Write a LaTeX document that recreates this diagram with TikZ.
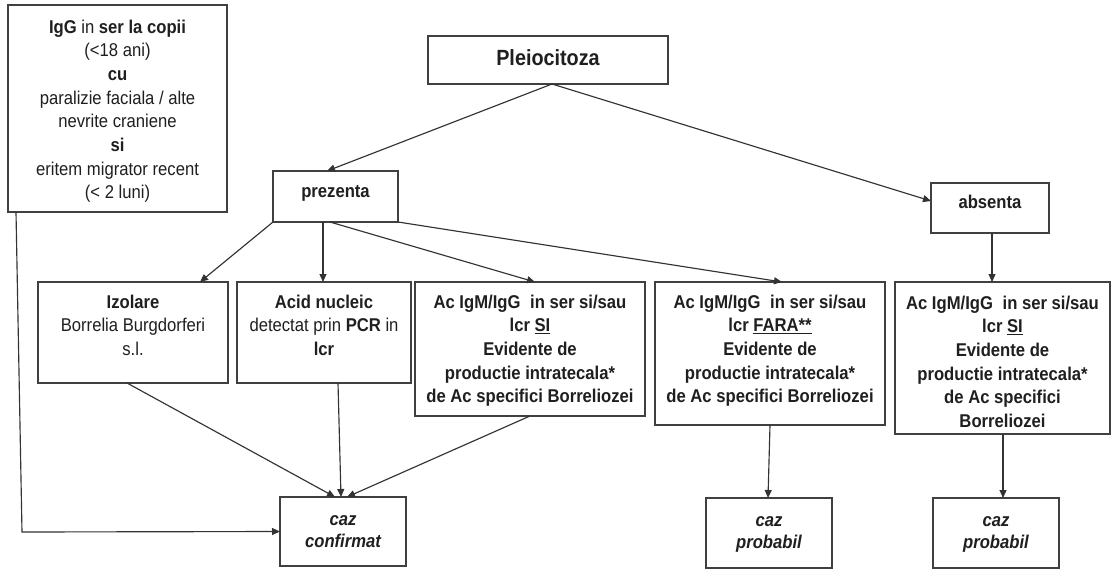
\documentclass[tikz,border=0pt]{standalone}
\usepackage{fontspec}
\setmainfont{Liberation Sans}[FakeStretch=0.9]
\usetikzlibrary{arrows.meta}
\newcommand\bxt[4]{\parbox[c][#2][t]{#1}{\centering\rule{0pt}{#3}#4}}
\newcommand\acline{Ac IgM/IgG\hspace{5pt} in ser si/sau}
\tikzset{
  bx/.style={draw=black!75, line width=1.2pt, inner sep=0pt, outer sep=0pt, anchor=north west, fill=white, text=black!88,
    font=\fontsize{18.5pt}{23.7pt}\selectfont},
  conn/.style={draw=black!80, line width=1.15pt, -{Triangle[length=8pt,width=7pt]}},
  plain/.style={draw=black!80, line width=1.1pt}
}
\begin{document}
\begin{tikzpicture}[x=1pt,y=-1pt]
\useasboundingbox (0,0) rectangle (1113,570);
\fill[white] (0,0) rectangle (1113,570);

\node[bx] (lb) at (8,5) {\bxt{219pt}{207pt}{28pt}{\textbf{IgG} in \textbf{ser la copii}\\(<18 ani)\\\textbf{cu}\\paralizie faciala / alte\\nevrite craniene\\\textbf{si}\\eritem migrator recent\\(< 2 luni)}};

\node[bx, font=\fontsize{22pt}{26pt}\selectfont\bfseries] (pl) at (428,36) {\bxt{240pt}{48pt}{29pt}{Pleiocitoza}};

\node[bx, font=\fontsize{18.5pt}{23.7pt}\selectfont\bfseries] (pr) at (273,171) {\bxt{125pt}{51pt}{26pt}{prezenta}};

\node[bx, font=\fontsize{18.5pt}{23.7pt}\selectfont\bfseries] (ab) at (931,183) {\bxt{118pt}{50pt}{25pt}{absenta}};

\node[bx] (iz) at (38,282) {\bxt{190pt}{101pt}{26pt}{\textbf{Izolare}\\Borrelia Burgdorferi\\s.l.}};

\node[bx] (ac) at (237,282) {\bxt{174pt}{101pt}{26pt}{\textbf{Acid nucleic}\\detectat prin \textbf{PCR} in\\\textbf{lcr}}};

\node[bx, font=\fontsize{18.5pt}{23.7pt}\selectfont\bfseries] (si) at (415,282) {\bxt{230pt}{134pt}{26pt}{\acline\\lcr \underline{SI}\\Evidente de\\productie intratecala*\\de Ac specifici Borreliozei}};

\node[bx, font=\fontsize{18.5pt}{23.7pt}\selectfont\bfseries] (fa) at (655,282) {\bxt{230pt}{143pt}{26pt}{\acline\\lcr \underline{FARA**}\\Evidente de\\productie intratecala*\\de Ac specifici Borreliozei}};

\node[bx, font=\fontsize{18.5pt}{23.7pt}\selectfont\bfseries] (rb) at (895,282) {\bxt{215pt}{152pt}{27pt}{\acline\\lcr \underline{SI}\\Evidente de\\productie intratecala*\\de Ac specifici\\Borreliozei}};

\node[bx, font=\fontsize{18.5pt}{22.5pt}\selectfont\bfseries\itshape] (cc) at (280,497) {\bxt{126pt}{69pt}{28pt}{caz\\confirmat}};
\node[bx, font=\fontsize{18.5pt}{22.5pt}\selectfont\bfseries\itshape] (cp1) at (706,498) {\bxt{126pt}{70pt}{28pt}{caz\\probabil}};
\node[bx, font=\fontsize{18.5pt}{22.5pt}\selectfont\bfseries\itshape] (cp2) at (933,498) {\bxt{126pt}{70pt}{28pt}{caz\\probabil}};

\coordinate (corner) at (22,532);

\draw[conn] ([xshift=4pt]pl.south) -- ([xshift=-8.5pt]pr.north);
\draw[conn] ([xshift=4pt]pl.south) -- ([yshift=7pt]ab.west);
\draw[conn] (pr.south west) -- ([xshift=67pt]iz.north);
\draw[conn] ([xshift=-12.5pt]pr.south) -- ([xshift=-1pt]ac.north);
\draw[conn] ([xshift=-5.5pt]pr.south) -- ([xshift=5pt]si.north);
\draw[conn] (pr.south east) -- ([xshift=12pt]fa.north);
\draw[conn] ([xshift=2pt]ab.south) -- ([xshift=-10.5pt]rb.north);
\draw[conn] ([xshift=-6pt]iz.south) -- ([xshift=-8pt]cc.north);
\draw[conn] ([xshift=14pt]ac.south) -- ([xshift=-2pt]cc.north);
\draw[conn] (si.south) -- ([xshift=4pt]cc.north);
\draw[conn] ([xshift=8pt]lb.south west) -- (corner) -- (cc.west);
\draw[conn] (fa.south) -- ([xshift=-1pt]cp1.north);
\draw[conn] ([xshift=0.5pt]rb.south) -- ([xshift=7pt]cp2.north);
\end{tikzpicture}
\end{document}
